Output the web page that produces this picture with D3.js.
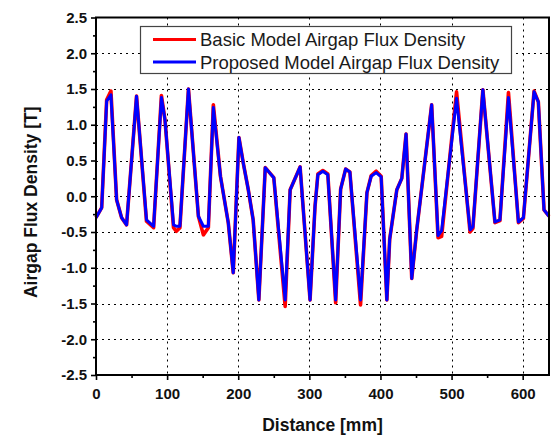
<!DOCTYPE html>
<html><head><meta charset="utf-8">
<script src="https://cdn.jsdelivr.net/npm/d3@7"></script>
<style>body{margin:0;background:#fff}svg{display:block}</style>
</head><body>
<script>
const distance = [0, 8, 15, 21, 29, 36, 43, 57, 71, 81, 92, 97, 109, 113, 118, 130, 144, 151, 158, 165, 175, 186, 193, 201, 207, 214, 221, 229, 238, 250, 266, 273, 287, 301, 308, 312, 319, 326, 337, 344, 351, 357, 372, 381, 387, 394, 401, 409, 413, 423, 430, 436, 444, 451, 472, 481, 486, 507, 526, 530, 544, 561, 568, 580, 594, 601, 616, 622, 630, 637];
const proposed = [-0.30, -0.16, 1.33, 1.42, -0.05, -0.30, -0.40, 1.40, -0.33, -0.42, 1.38, 1.07, -0.40, -0.42, -0.42, 1.50, -0.28, -0.42, -0.42, 1.24, 0.28, -0.37, -1.07, 0.82, 0.47, 0.10, -0.33, -1.45, 0.40, 0.26, -1.45, 0.09, 0.41, -1.45, -0.14, 0.30, 0.35, 0.30, -1.45, 0.10, 0.38, 0.34, -1.45, 0.05, 0.28, 0.33, 0.27, -1.45, -0.60, 0.09, 0.25, 0.87, -1.15, -0.47, 1.28, -0.55, -0.48, 1.37, -0.47, -0.43, 1.49, -0.36, -0.33, 1.38, -0.36, -0.30, 1.46, 1.32, -0.19, -0.28];
const basic = [-0.30, -0.16, 1.35, 1.47, -0.05, -0.30, -0.40, 1.40, -0.35, -0.44, 1.41, 1.07, -0.44, -0.49, -0.44, 1.50, -0.28, -0.54, -0.44, 1.28, 0.28, -0.37, -1.07, 0.82, 0.47, 0.10, -0.33, -1.45, 0.40, 0.26, -1.54, 0.09, 0.41, -1.45, -0.14, 0.31, 0.36, 0.31, -1.49, 0.10, 0.38, 0.34, -1.52, 0.05, 0.29, 0.35, 0.28, -1.45, -0.60, 0.09, 0.25, 0.87, -1.15, -0.47, 1.28, -0.58, -0.56, 1.46, -0.50, -0.45, 1.49, -0.37, -0.34, 1.45, -0.37, -0.31, 1.47, 1.32, -0.19, -0.28];
const seriesNames = ["Basic Model Airgap Flux Density", "Proposed Model Airgap Flux Density"];
const seriesColors = ["#ff0000", "#0000ff"];
const xTicks = [0, 100, 200, 300, 400, 500, 600];
const xMinor = [50, 150, 250, 350, 450, 550];
const yTicks = [-2.5, -2.0, -1.5, -1.0, -0.5, 0.0, 0.5, 1.0, 1.5, 2.0, 2.5];
const yMinor = [-2.25, -1.75, -1.25, -0.75, -0.25, 0.25, 0.75, 1.25, 1.75, 2.25];

const W = 552, H = 436;
const L = 96, R = 549, T = 17.5, B = 375;
const FONT = "Liberation Sans, Arial, sans-serif";
const svg = d3.select("body").append("svg").attr("width", W).attr("height", H);
const x = d3.scaleLinear().domain([0, 637]).range([L, R]);
const y = d3.scaleLinear().domain([-2.5, 2.5]).range([B, T]);

// grid
const grid = svg.append("g").attr("stroke", "#000").attr("stroke-width", 1).attr("stroke-dasharray", "2,4");
grid.selectAll("line.gx").data(xTicks.filter(d => d > 0)).join("line")
  .attr("x1", d => Math.round(x(d)) + 0.5).attr("x2", d => Math.round(x(d)) + 0.5).attr("y1", T).attr("y2", B);
grid.selectAll("line.gy").data(yTicks.filter(d => d > -2.5 && d < 2.5)).join("line")
  .attr("y1", d => Math.round(y(d)) + 0.5).attr("y2", d => Math.round(y(d)) + 0.5).attr("x1", L).attr("x2", R);

// lines
const line = d3.line().x((d, i) => x(distance[i])).y(d => y(d));
svg.append("path").datum(basic).attr("d", line).attr("fill", "none")
  .attr("stroke", seriesColors[0]).attr("stroke-width", 3.6).attr("stroke-linejoin", "round");
svg.append("path").datum(proposed).attr("d", line).attr("fill", "none")
  .attr("stroke", seriesColors[1]).attr("stroke-width", 3).attr("stroke-linejoin", "round");

// axes
const fmt = d => d.toFixed(1);
const yAx = svg.append("g").attr("transform", `translate(${L},0)`)
  .call(d3.axisLeft(y).tickValues(yTicks).tickFormat(fmt).tickSize(5).tickPadding(4));
const yAxMinor = svg.append("g").attr("transform", `translate(${L},0)`)
  .call(d3.axisLeft(y).tickValues(yMinor).tickFormat("").tickSize(3));
const xAx = svg.append("g").attr("transform", `translate(0,${B})`)
  .call(d3.axisBottom(x).tickValues(xTicks).tickFormat(d3.format("d")).tickSize(5).tickPadding(8));
const xAxMinor = svg.append("g").attr("transform", `translate(0,${B})`)
  .call(d3.axisBottom(x).tickValues(xMinor).tickFormat("").tickSize(3));
[yAx, yAxMinor, xAx, xAxMinor].forEach(g => {
  g.select(".domain").remove();
  g.selectAll(".tick line").attr("stroke", "#000").attr("stroke-width", 1.6);
  g.selectAll("text").attr("fill", "#111").attr("font-family", FONT)
    .attr("font-size", 15).attr("font-weight", "bold");
});

// frame
svg.append("rect").attr("x", L).attr("y", T).attr("width", R - L).attr("height", B - T)
  .attr("fill", "none").attr("stroke", "#000").attr("stroke-width", 2);

// legend
const lg = svg.append("g");
lg.append("rect").attr("x", 140.5).attr("y", 26.5).attr("width", 371).attr("height", 47)
  .attr("fill", "#fff").attr("stroke", "#444").attr("stroke-width", 1.2);
seriesNames.forEach((n, i) => {
  const yy = 39.5 + i * 22.5;
  lg.append("line").attr("x1", 153).attr("x2", 196).attr("y1", yy).attr("y2", yy)
    .attr("stroke", seriesColors[i]).attr("stroke-width", 3);
  lg.append("text").attr("x", 200).attr("y", yy + 6.5).text(n)
    .attr("font-family", FONT).attr("font-size", 18.5).attr("fill", "#1a1a1a");
});

// titles
svg.append("text").attr("x", (L + R) / 2).attr("y", 431).attr("text-anchor", "middle")
  .attr("font-family", FONT).attr("font-size", 17.5).attr("font-weight", "bold")
  .attr("fill", "#111").text("Distance [mm]");
svg.append("text").attr("transform", `translate(37,${(T + B) / 2 + 6}) rotate(-90)`).attr("text-anchor", "middle")
  .attr("font-family", FONT).attr("font-size", 17.5).attr("font-weight", "bold")
  .attr("fill", "#111").text("Airgap Flux Density [T]");
</script>
</body></html>
